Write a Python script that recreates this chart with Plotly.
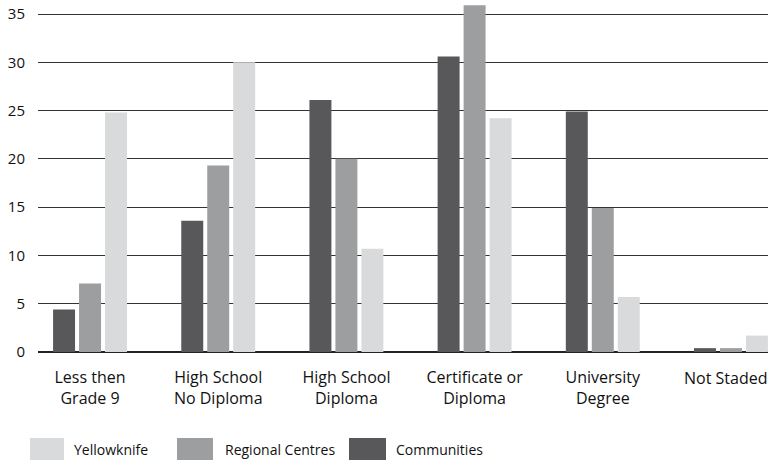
import plotly.graph_objects as go

# Education levels (category axis)
categories = [
    "Less then<br>Grade 9",
    "High School<br>No Diploma",
    "High School<br>Diploma",
    "Certificate or<br>Diploma",
    "University<br>Degree",
    "Not Staded",
]

# Percent of population by region type
communities = [4.4, 13.6, 26.1, 30.6, 24.9, 0.4]
regional_centres = [7.1, 19.3, 20.0, 35.9, 14.9, 0.4]
yellowknife = [24.8, 30.0, 10.7, 24.2, 5.7, 1.7]

series_names = ["Communities", "Regional Centres", "Yellowknife"]
series_values = [communities, regional_centres, yellowknife]
series_colors = ["#58585a", "#9d9ea0", "#d9dadb"]

y_ticks = [0, 5, 10, 15, 20, 25, 30, 35]

# the last category label sits at the page edge, so it is placed right-aligned
tick_text = categories[:-1] + [""]

FONT = "Open Sans, Noto Sans, sans-serif"
W, H = 768, 460
L, R, T, B = 38, 0, 0, 108

fig = go.Figure()
for name, vals, col in zip(series_names, series_values, series_colors):
    fig.add_trace(go.Bar(
        x=categories, y=vals, name=name,
        marker=dict(color=col, line=dict(width=0)),
        showlegend=False,
    ))

fig.update_layout(
    width=W, height=H,
    margin=dict(l=L, r=R, t=T, b=B, autoexpand=False),
    paper_bgcolor="white", plot_bgcolor="white",
    barmode="group", bargap=0.392, bargroupgap=0.154,
    font=dict(family=FONT, size=14, color="#111"),
    xaxis=dict(
        type="category", range=[-0.406, 5.289],
        tickmode="array", tickvals=categories, ticktext=tick_text,
        showgrid=False, zeroline=False, showline=False,
        ticks="", ticklabelstandoff=14, automargin=False,
        tickfont=dict(size=16, color="#111"),
    ),
    yaxis=dict(
        range=[0, 36.45], tickvals=y_ticks,
        showgrid=True, gridcolor="#333333", gridwidth=1,
        zeroline=True, zerolinecolor="#222", zerolinewidth=1.6,
        showline=False, ticks="", ticklabelstandoff=12, automargin=False,
        tickfont=dict(size=15, color="#111"),
    ),
)

def px_x(px):
    return (px - L) / (W - L - R)

def px_y(py):
    return (H - B - py) / (H - T - B)

fig.add_annotation(
    x=1, y=px_y(378), xref="paper", yref="paper",
    text=categories[-1], showarrow=False, xanchor="right", yanchor="middle",
    xshift=1, font=dict(family=FONT, size=16, color="#111"),
)

# Legend drawn as wide swatches with labels below the plot
legend_items = [
    ("Yellowknife", series_colors[2], 30, 64, 72),
    ("Regional Centres", series_colors[1], 177, 213, 223),
    ("Communities", series_colors[0], 349, 386, 394),
]
for label, col, x0, x1, tx in legend_items:
    fig.add_shape(
        type="rect", xref="paper", yref="paper",
        x0=px_x(x0), x1=px_x(x1), y0=px_y(438), y1=px_y(460),
        fillcolor=col, line=dict(width=0), layer="above",
    )
    fig.add_annotation(
        x=px_x(tx), y=px_y(449), xref="paper", yref="paper",
        text=label, showarrow=False, xanchor="left", yanchor="middle",
        font=dict(family=FONT, size=14, color="#111"),
    )

fig.write_html("out.html")
